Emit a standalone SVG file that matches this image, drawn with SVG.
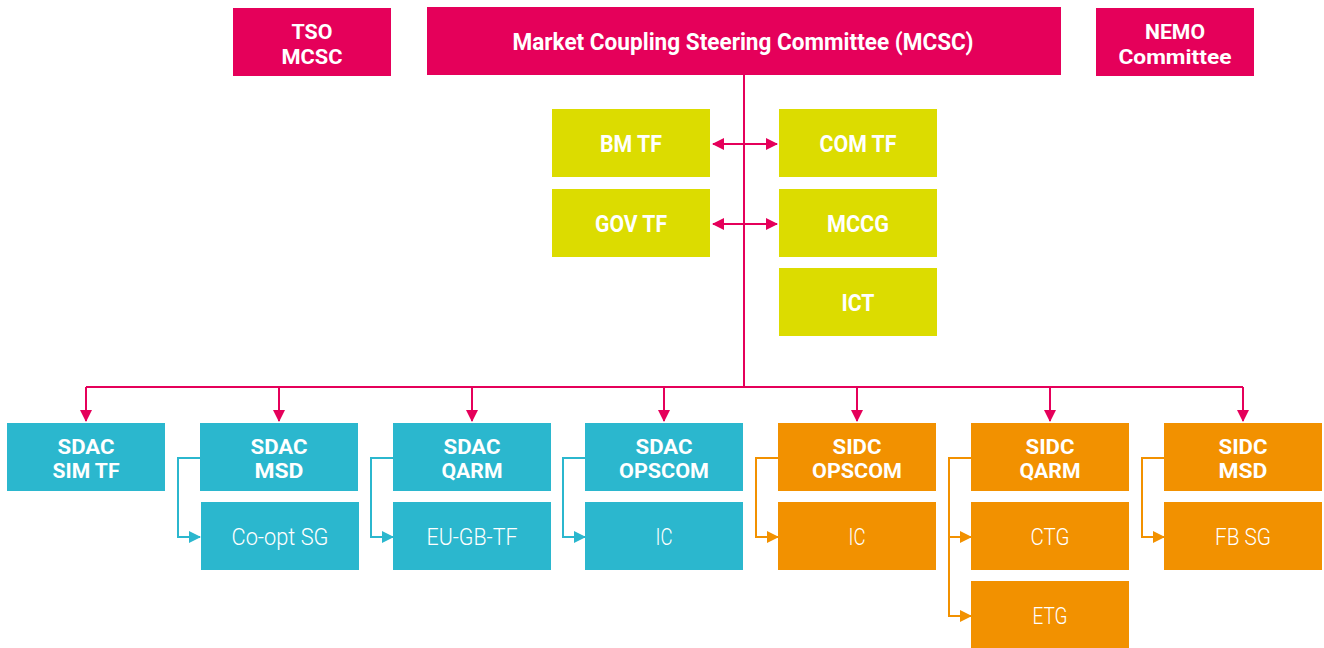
<svg xmlns="http://www.w3.org/2000/svg" width="1324" height="648" viewBox="0 0 1324 648">
<style>
.m{fill:#E5005A}.y{fill:#DCDC00}.c{fill:#2BB7CE}.o{fill:#F29100}
text{font-family:Roboto,"Liberation Sans",sans-serif;fill:#fff;text-anchor:middle}
.b{font-weight:700;font-size:23px}
.t{font-weight:700;font-size:20.5px}
.l{font-weight:300;font-size:23px}
.pk{stroke:#E5005A;stroke-width:2;fill:none}
.cs{stroke:#2BB7CE;stroke-width:2;fill:none}
.os{stroke:#F29100;stroke-width:2;fill:none}
</style>
<defs>
<marker id="am" viewBox="0 0 12 12" refX="11" refY="6" markerWidth="12" markerHeight="12" markerUnits="userSpaceOnUse" orient="auto-start-reverse"><path d="M0,0L12,6L0,12z" fill="#E5005A"/></marker>
<marker id="ac" viewBox="0 0 12 12" refX="11" refY="6" markerWidth="12" markerHeight="12" markerUnits="userSpaceOnUse" orient="auto"><path d="M0,0L12,6L0,12z" fill="#2BB7CE"/></marker>
<marker id="ao" viewBox="0 0 12 12" refX="11" refY="6" markerWidth="12" markerHeight="12" markerUnits="userSpaceOnUse" orient="auto"><path d="M0,0L12,6L0,12z" fill="#F29100"/></marker>
</defs>
<g id="connectors">
<path class="pk" d="M744,75V387"/>
<path class="pk" d="M86,387H1243"/>
<path class="pk" d="M713,144H777" marker-start="url(#am)" marker-end="url(#am)"/>
<path class="pk" d="M713,224H777" marker-start="url(#am)" marker-end="url(#am)"/>
<path class="pk" d="M86,387V421" marker-end="url(#am)"/>
<path class="pk" d="M279,387V421" marker-end="url(#am)"/>
<path class="pk" d="M472,387V421" marker-end="url(#am)"/>
<path class="pk" d="M664,387V421" marker-end="url(#am)"/>
<path class="pk" d="M857,387V421" marker-end="url(#am)"/>
<path class="pk" d="M1050,387V421" marker-end="url(#am)"/>
<path class="pk" d="M1243,387V421" marker-end="url(#am)"/>
<path class="cs" d="M200,458H178V537H200" marker-end="url(#ac)"/>
<path class="cs" d="M393,458H371V537H393" marker-end="url(#ac)"/>
<path class="cs" d="M585,458H563V537H585" marker-end="url(#ac)"/>
<path class="os" d="M778,458H756V537H778" marker-end="url(#ao)"/>
<path class="os" d="M971,458H949V537H971" marker-end="url(#ao)"/>
<path class="os" d="M949,537V616H971" marker-end="url(#ao)"/>
<path class="os" d="M1164,458H1142V537H1164" marker-end="url(#ao)"/>
</g>
<g id="tso"><rect class="m" x="233" y="8" width="158" height="68"/><text class="t" x="312" y="39" textLength="41" lengthAdjust="spacingAndGlyphs">TSO</text><text class="t" x="312" y="64" textLength="61" lengthAdjust="spacingAndGlyphs">MCSC</text></g>
<g id="mcsc"><rect class="m" x="427" y="7" width="634" height="68"/><text class="b" x="743" y="50" textLength="461" lengthAdjust="spacingAndGlyphs">Market Coupling Steering Committee (MCSC)</text></g>
<g id="nemo"><rect class="m" x="1096" y="8" width="158" height="68"/><text class="t" x="1175" y="39" textLength="60" lengthAdjust="spacingAndGlyphs">NEMO</text><text class="t" x="1175" y="64" textLength="113" lengthAdjust="spacingAndGlyphs">Committee</text></g>
<g id="bmtf"><rect class="y" x="552" y="109" width="158" height="68"/><text class="b" x="631" y="152" textLength="62" lengthAdjust="spacingAndGlyphs">BM TF</text></g>
<g id="comtf"><rect class="y" x="779" y="109" width="158" height="68"/><text class="b" x="858" y="152" textLength="77" lengthAdjust="spacingAndGlyphs">COM TF</text></g>
<g id="govtf"><rect class="y" x="552" y="189" width="158" height="68"/><text class="b" x="631" y="232" textLength="72" lengthAdjust="spacingAndGlyphs">GOV TF</text></g>
<g id="mccg"><rect class="y" x="779" y="189" width="158" height="68"/><text class="b" x="858" y="232" textLength="62" lengthAdjust="spacingAndGlyphs">MCCG</text></g>
<g id="ict"><rect class="y" x="779" y="268" width="158" height="68"/><text class="b" x="858" y="311" textLength="33" lengthAdjust="spacingAndGlyphs">ICT</text></g>
<g id="sdac-sim"><rect class="c" x="7" y="423" width="158" height="68"/><text class="t" x="86" y="454" textLength="57" lengthAdjust="spacingAndGlyphs">SDAC</text><text class="t" x="86" y="478" textLength="67" lengthAdjust="spacingAndGlyphs">SIM TF</text></g>
<g id="sdac-msd"><rect class="c" x="200" y="423" width="158" height="68"/><text class="t" x="279" y="454" textLength="57" lengthAdjust="spacingAndGlyphs">SDAC</text><text class="t" x="279" y="478" textLength="49" lengthAdjust="spacingAndGlyphs">MSD</text></g>
<g id="sdac-qarm"><rect class="c" x="393" y="423" width="158" height="68"/><text class="t" x="472" y="454" textLength="57" lengthAdjust="spacingAndGlyphs">SDAC</text><text class="t" x="472" y="478" textLength="61" lengthAdjust="spacingAndGlyphs">QARM</text></g>
<g id="sdac-opscom"><rect class="c" x="585" y="423" width="158" height="68"/><text class="t" x="664" y="454" textLength="57" lengthAdjust="spacingAndGlyphs">SDAC</text><text class="t" x="664" y="478" textLength="90" lengthAdjust="spacingAndGlyphs">OPSCOM</text></g>
<g id="sidc-opscom"><rect class="o" x="778" y="423" width="158" height="68"/><text class="t" x="857" y="454" textLength="49" lengthAdjust="spacingAndGlyphs">SIDC</text><text class="t" x="857" y="478" textLength="90" lengthAdjust="spacingAndGlyphs">OPSCOM</text></g>
<g id="sidc-qarm"><rect class="o" x="971" y="423" width="158" height="68"/><text class="t" x="1050" y="454" textLength="49" lengthAdjust="spacingAndGlyphs">SIDC</text><text class="t" x="1050" y="478" textLength="61" lengthAdjust="spacingAndGlyphs">QARM</text></g>
<g id="sidc-msd"><rect class="o" x="1164" y="423" width="158" height="68"/><text class="t" x="1243" y="454" textLength="49" lengthAdjust="spacingAndGlyphs">SIDC</text><text class="t" x="1243" y="478" textLength="49" lengthAdjust="spacingAndGlyphs">MSD</text></g>
<g id="coopt"><rect class="c" x="201" y="502" width="158" height="68"/><text class="l" x="280" y="545" textLength="97" lengthAdjust="spacingAndGlyphs">Co-opt SG</text></g>
<g id="eugbtf"><rect class="c" x="393" y="502" width="158" height="68"/><text class="l" x="472" y="545" textLength="91" lengthAdjust="spacingAndGlyphs">EU-GB-TF</text></g>
<g id="sdac-ic"><rect class="c" x="585" y="502" width="158" height="68"/><text class="l" x="664" y="545" textLength="17" lengthAdjust="spacingAndGlyphs">IC</text></g>
<g id="sidc-ic"><rect class="o" x="778" y="502" width="158" height="68"/><text class="l" x="857" y="545" textLength="17" lengthAdjust="spacingAndGlyphs">IC</text></g>
<g id="ctg"><rect class="o" x="971" y="502" width="158" height="68"/><text class="l" x="1050" y="545" textLength="39" lengthAdjust="spacingAndGlyphs">CTG</text></g>
<g id="etg"><rect class="o" x="971" y="581" width="158" height="67"/><text class="l" x="1050" y="624" textLength="35" lengthAdjust="spacingAndGlyphs">ETG</text></g>
<g id="fbsg"><rect class="o" x="1164" y="502" width="158" height="68"/><text class="l" x="1243" y="545" textLength="56" lengthAdjust="spacingAndGlyphs">FB SG</text></g>
</svg>
